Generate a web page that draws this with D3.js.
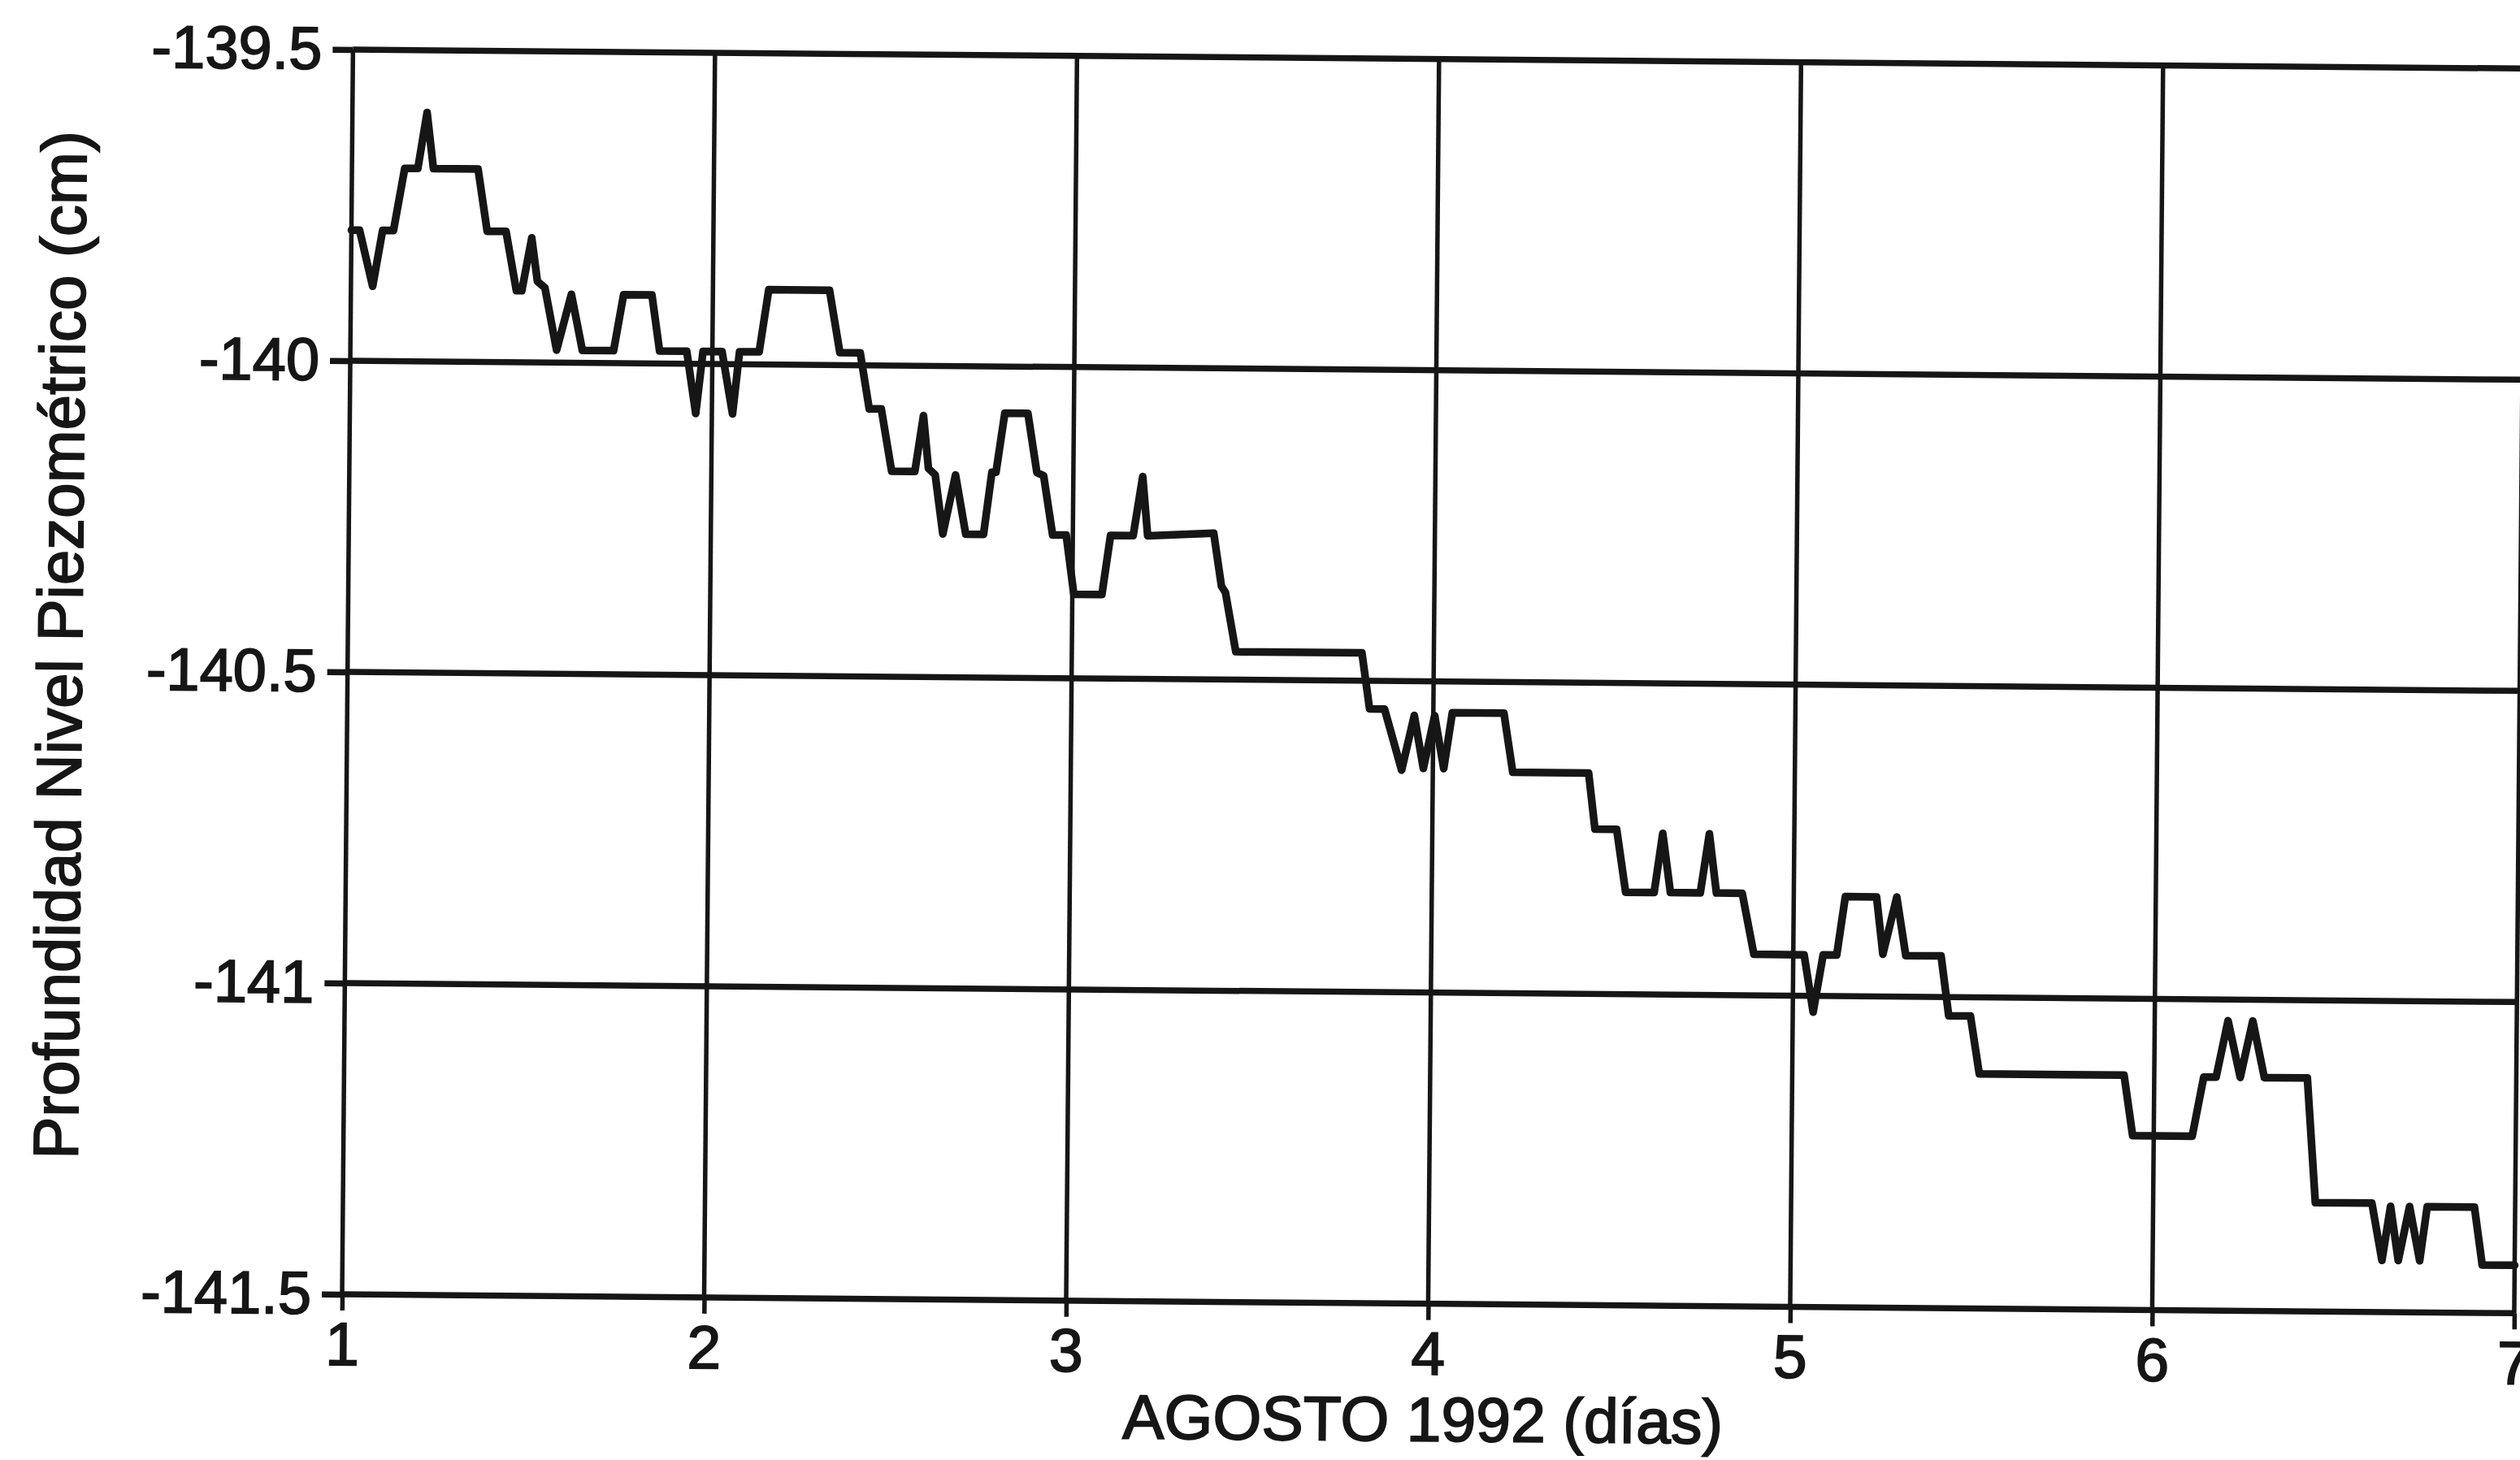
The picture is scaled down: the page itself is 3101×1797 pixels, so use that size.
<!DOCTYPE html>
<html>
<head>
<meta charset="utf-8">
<title>Profundidad Nivel Piezométrico — Agosto 1992</title>
<script src="https://cdn.jsdelivr.net/npm/d3@7"></script>
<style>
  html, body { margin: 0; padding: 0; background: #ffffff; }
  svg { display: block; }
  text {
    font-family: "Liberation Sans", Arial, Helvetica, sans-serif;
    fill: #161616;
    stroke: #161616;
    stroke-width: 1.8px;
    paint-order: stroke;
  }
</style>
</head>
<body>
<svg id="chart" width="3101" height="1797"></svg>
<script>
// Hours elapsed since 1 August 1992 00:00 at each vertex of the record
const horas = [
  0, 0.54, 1.44, 2.07, 2.79, 3.5, 4.37, 4.95, 5.4, 8.36,
  9.0, 10.25, 10.97, 11.33, 11.96, 12.36, 12.86, 13.67, 14.62, 15.38,
  17.45, 18.08, 19.96, 20.5, 22.3, 22.93, 23.38, 24.64, 25.37, 25.8,
  27.1,
  27.7, 31.73, 32.45, 33.8, 34.43, 35.23, 35.95, 37.49, 38.03, 38.39,
  38.84, 39.38, 40.19, 40.9, 42.08, 42.6, 42.87, 43.42, 44.95, 45.58,
  46.03, 46.66, 47.56, 48.1, 49.96, 50.5, 52.0, 52.6, 52.96,
  57.34, 57.88, 58.15, 58.87, 67.23, 67.77, 68.76, 69.93, 70.74, 71.37,
  72.09, 72.72, 73.26, 76.68, 77.3,
  82.33, 82.78, 84.22, 84.85, 86.74, 87.28, 87.82, 89.8, 90.37, 90.87,
  92.58, 93.39, 96.72, 97.35, 97.98, 98.88, 99.42, 101.49, 101.94, 102.83,
  103.46, 105.8, 106.34, 107.78, 108.4,
  118.0, 118.6, 122.55, 123.28, 124.1, 124.86, 125.7, 126.5, 127.3, 130.15,
  130.75, 134.5, 135.2, 135.74, 136.28, 137.0, 137.7, 138.17, 141.3, 141.85,
  144
];

// Piezometric level depth (cm) at each vertex
const nivel = [
  -139.79, -139.79, -139.88, -139.79, -139.79, -139.69, -139.69, -139.60, -139.69, -139.69,
  -139.79, -139.79, -139.885, -139.885, -139.80, -139.87, -139.88, -139.98, -139.89, -139.98,
  -139.98, -139.89, -139.89, -139.98, -139.98, -140.08, -139.98, -139.98, -140.08, -139.98,
  -139.98,
  -139.88, -139.88, -139.98, -139.98, -140.07, -140.07, -140.17, -140.17, -140.08, -140.165,
  -140.175, -140.27, -140.175, -140.27, -140.27, -140.17, -140.17, -140.075, -140.075, -140.17,
  -140.175, -140.27, -140.27, -140.365, -140.365, -140.27, -140.27, -140.175, -140.27,
  -140.265, -140.35, -140.36, -140.455, -140.455, -140.545, -140.545, -140.643, -140.555, -140.64,
  -140.555, -140.64, -140.55, -140.55, -140.645,
  -140.645, -140.735, -140.735, -140.836, -140.836, -140.741, -140.836, -140.836, -140.741, -140.836,
  -140.836, -140.934, -140.934, -141.026, -140.934, -140.934, -140.84, -140.84, -140.932, -140.84,
  -140.934, -140.934, -141.03, -141.03, -141.123,
  -141.123, -141.22, -141.22, -141.125, -141.125, -141.034, -141.125, -141.034, -141.125, -141.125,
  -141.325, -141.325, -141.417, -141.33, -141.417, -141.33, -141.417, -141.33, -141.33, -141.423,
  -141.423
];

// Axis ticks and labels
const dias = [1, 2, 3, 4, 5, 6, 7];
const diaLabels = ["1", "2", "3", "4", "5", "6", "7"];
const nivelTicks = [-139.5, -140, -140.5, -141, -141.5];
const nivelLabels = ["-139.5", "-140", "-140.5", "-141", "-141.5"];
const tituloX = "AGOSTO 1992 (días)";
const tituloY = "Profundidad Nivel Piezométrico (cm)";

// Layout
const plotLeft = 421, plotTop = 61;
const plotW = 2673, plotH = 1532;
const tilt = 0.5;           // the printed sheet sits slightly askew
const ink = "#161616";

const svg = d3.select("#chart");
const sheet = svg.append("g")
  .attr("transform", `rotate(${tilt}, ${plotLeft}, ${plotTop + plotH})`);
const g = sheet.append("g").attr("transform", `translate(${plotLeft},${plotTop})`);

const x = d3.scaleLinear().domain([1, 7]).range([0, plotW]);
const y = d3.scaleLinear().domain([-141.5, -139.5]).range([plotH, 0]);

// Horizontal grid lines (including frame top and bottom)
g.append("g").attr("class", "grid-y")
  .selectAll("line").data(nivelTicks).join("line")
  .attr("x1", 0).attr("x2", plotW)
  .attr("y1", d => y(d)).attr("y2", d => y(d))
  .attr("stroke", ink).attr("stroke-width", 7.5);

// Vertical grid lines (including frame left and right)
g.append("g").attr("class", "grid-x")
  .selectAll("line").data(dias).join("line")
  .attr("x1", d => x(d)).attr("x2", d => x(d))
  .attr("y1", 0).attr("y2", plotH)
  .attr("stroke", ink).attr("stroke-width", 5.5);

// Y axis: ticks and labels
const yAxis = d3.axisLeft(y)
  .tickValues(nivelTicks)
  .tickFormat((d, i) => nivelLabels[i])
  .tickSize(25).tickPadding(13);
g.append("g").call(yAxis)
  .call(a => a.select(".domain").remove())
  .call(a => a.selectAll(".tick line").attr("stroke", ink).attr("stroke-width", 7.5))
  .call(a => a.selectAll(".tick text").attr("fill", ink))
  .attr("font-family", "'Liberation Sans', Arial, sans-serif")
  .attr("font-size", 74);

// X axis: ticks and labels
const xAxis = d3.axisBottom(x)
  .tickValues(dias)
  .tickFormat((d, i) => diaLabels[i])
  .tickSize(20).tickPadding(14);
g.append("g").attr("transform", `translate(0,${plotH})`).call(xAxis)
  .call(a => a.select(".domain").remove())
  .call(a => a.selectAll(".tick line").attr("stroke", ink).attr("stroke-width", 5.5))
  .call(a => a.selectAll(".tick text").attr("fill", ink))
  .attr("font-family", "'Liberation Sans', Arial, sans-serif")
  .attr("font-size", 75);

// Record of the piezometric level
const serie = d3.line()
  .x(i => x(1 + horas[i] / 24))
  .y(i => y(nivel[i]));

g.append("path")
  .datum(d3.range(horas.length))
  .attr("d", serie)
  .attr("fill", "none")
  .attr("stroke", ink)
  .attr("stroke-width", 9.5)
  .attr("stroke-linejoin", "round")
  .attr("stroke-linecap", "round");

// Axis titles
sheet.append("text")
  .attr("x", 1752).attr("y", 1762)
  .attr("text-anchor", "middle")
  .attr("font-size", 77)
  .text(tituloX);

sheet.append("text")
  .attr("transform", "translate(94,797) rotate(-90)")
  .attr("text-anchor", "middle")
  .attr("font-size", 78)
  .text(tituloY);
</script>
</body>
</html>
